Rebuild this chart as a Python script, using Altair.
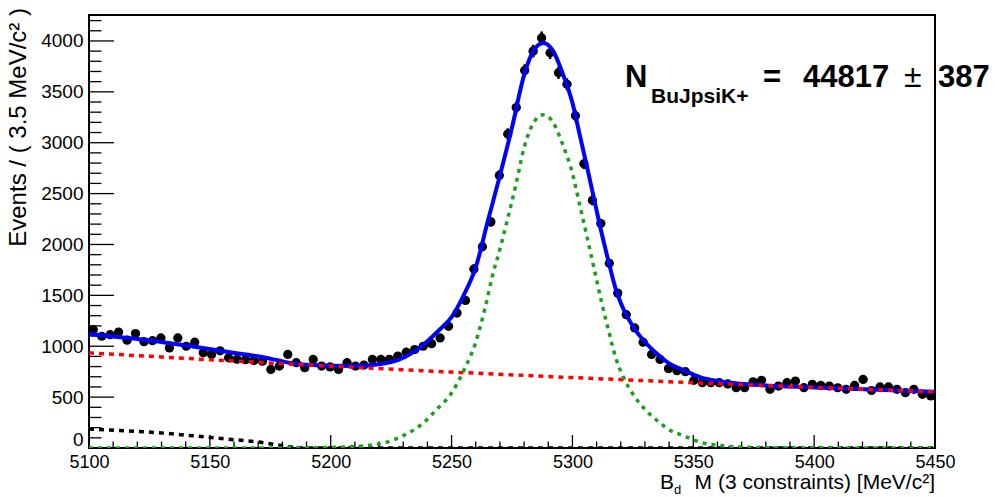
import altair as alt
import pandas as pd

# ---------------- data ----------------
BIN_START = 5100.0
BIN_WIDTH = 3.5
counts = [
    1163, 1098, 1114, 1140, 1060, 1125, 1045, 1055, 1082, 984,
    1082, 1000, 1040, 935, 919, 955, 886, 872, 868, 860,
    853, 772, 805, 919, 838, 789, 870, 805, 797, 772,
    838, 805, 815, 870, 870, 872, 903, 942, 968, 1000,
    1025, 1082, 1196, 1326, 1450, 1760, 1978, 2222, 2678, 3086,
    3346, 3710, 3900, 4030, 3884, 3688, 3574, 3265, 2793, 2434,
    2206, 1815, 1522, 1310, 1180, 1040, 919, 870, 780, 760,
    750, 665, 642, 642, 642, 630, 593, 593, 650, 665,
    577, 609, 642, 658, 593, 626, 615, 609, 592, 577,
    615, 674, 565, 600, 600, 577, 544, 577, 528, 511,
]

# total fit (blue)
blue_x = [5100, 5115, 5130, 5143, 5157, 5171, 5178, 5184, 5190, 5200, 5210, 5220,
          5228, 5235, 5240, 5245, 5250, 5255, 5260, 5265, 5270, 5275, 5280, 5284,
          5288, 5292, 5296, 5300, 5303, 5306, 5309, 5312, 5315, 5318, 5321, 5325,
          5330, 5335, 5340, 5346, 5353, 5362, 5375, 5400, 5450]
blue_y = [1121, 1084, 1042, 997, 946, 896, 862, 832, 818, 809, 807, 823,
          866, 955, 1050, 1162, 1286, 1501, 1775, 2230, 2678, 3149, 3664, 3910,
          3981, 3902, 3678, 3392, 3079, 2766, 2443, 2120, 1827, 1554, 1371, 1197,
          1042, 926, 831, 765, 694, 652, 622, 595, 552]

# combinatorial background (red dashed)
red_x = [5100, 5150, 5200, 5250, 5300, 5350, 5400, 5450]
red_y = [935, 867, 804, 746, 692, 641, 595, 552]

# signal (green dashed)
green_x = [5100, 5150, 5190, 5200, 5214, 5223, 5230, 5238, 5244, 5250, 5255, 5260,
           5264, 5267, 5270, 5273.5, 5276.5, 5280, 5284, 5288, 5292, 5296, 5300,
           5303, 5306, 5309, 5312, 5315, 5318, 5321, 5325, 5330, 5335, 5340, 5346,
           5353, 5362, 5375, 5400, 5450]
green_y = [0, 0, 2, 5, 22, 56, 121, 240, 383, 540, 760, 1040,
           1390, 1700, 1954, 2282, 2576, 2950, 3200, 3275, 3200, 2980, 2700,
           2390, 2080, 1760, 1440, 1150, 880, 700, 530, 380, 270, 180, 120,
           56, 22, 5, 0, 0]

# partially reconstructed background (black dashed)
black_x = [5100, 5115, 5130, 5143, 5157, 5171, 5178, 5184, 5190, 5450]
black_y = [186, 170, 148, 120, 88, 56, 30, 8, 0, 0]

# axis ticks / labels
x_major = [5100, 5150, 5200, 5250, 5300, 5350, 5400, 5450]
x_minor = [v for v in range(5100, 5451, 10) if v not in x_major]
y_major = [0, 500, 1000, 1500, 2000, 2500, 3000, 3500, 4000]
y_minor = [v for v in range(0, 4251, 100) if v not in y_major]

Y_TITLE = "Events / ( 3.5 MeV/c² )"
X_TITLE_MAIN = "B"
X_TITLE_SUB = "d"
X_TITLE_REST = "M (3 constraints) [MeV/c²]"
ANN_N = "N"
ANN_SUB = "BuJpsiK+"
ANN_EQ = "="
ANN_VAL = "44817"
ANN_PM = "±"
ANN_ERR = "387"

# ---------------- build ----------------
W, H = 846, 433
FONT = "Liberation Sans"
xs = alt.Scale(domain=[5100, 5450], nice=False, zero=False)
ys = alt.Scale(domain=[0, 4255], nice=False)

AX = alt.Axis(values=x_major, format="d", ticks=False, domain=False, grid=False,
              labelFont=FONT, labelFontSize=18, labelColor="black",
              labelPadding=5, labelFlush=False, title=None)
AY = alt.Axis(values=y_major, format="d", ticks=False, domain=False, grid=False,
              labelFont=FONT, labelFontSize=19, labelColor="black",
              labelPadding=6, labelFlush=False, title=None,
              labelOffset={"condition": {"test": "datum.value == 0", "value": -9}, "value": 0})

X = lambda f: alt.X(f, scale=xs, axis=AX, title=None)
Y = lambda f: alt.Y(f, scale=ys, axis=AY, title=None)

df = pd.DataFrame({"y": counts})
df["x"] = [BIN_START + BIN_WIDTH * (i + 0.5) for i in range(len(counts))]
df["lo"] = df["y"] - df["y"] ** 0.5
df["hi"] = df["y"] + df["y"] ** 0.5
df["xl"] = df["x"] - BIN_WIDTH / 2
df["xh"] = df["x"] + BIN_WIDTH / 2

pts = alt.Chart(df).mark_point(filled=True, shape="circle", size=85, color="black", opacity=1).encode(
    x=X("x:Q"), y=Y("y:Q"))
ebar = alt.Chart(df).mark_rule(color="black", strokeWidth=2.5).encode(x=X("x:Q"), y=Y("lo:Q"), y2="hi:Q")
xbar = alt.Chart(df).mark_rule(color="black", strokeWidth=2.5).encode(x=X("xl:Q"), x2="xh:Q", y=Y("y:Q"))

def curve(xv, yv, color, width, dash=None, interp="monotone"):
    d = pd.DataFrame({"x": xv, "y": yv})
    kw = dict(color=color, strokeWidth=width, interpolate=interp, clip=True)
    if dash:
        kw["strokeDash"] = dash
    return alt.Chart(d).mark_line(**kw).encode(x=X("x:Q"), y=Y("y:Q"))

blue = curve(blue_x, blue_y, "#0000ff", 4)
red = curve(red_x, red_y, "#ff0000", 3.5, [5, 5], "linear")
green = curve(green_x, green_y, "#1e9e1e", 3.5, [4, 5])
black = curve(black_x, black_y, "black", 3.5, [5, 5])

def ticks_x(vals, length):
    return alt.Chart(pd.DataFrame({"t": vals})).mark_rule(color="black", strokeWidth=1.3).encode(
        x=X("t:Q"), y=alt.value(H), y2=alt.value(H - length))

def ticks_y(vals, length):
    return alt.Chart(pd.DataFrame({"t": vals})).mark_rule(color="black", strokeWidth=1.3).encode(
        y=Y("t:Q"), x=alt.value(0), x2=alt.value(length))

def label(txt, x, y, size, weight="normal", align="left", angle=0, baseline="alphabetic"):
    kw = dict(font=FONT, fontSize=size, fontWeight=weight, align=align, baseline=baseline, color="black")
    if angle:
        kw["angle"] = angle
    return alt.Chart(pd.DataFrame({"t": [txt]})).mark_text(**kw).encode(
        text="t:N", x=alt.value(x), y=alt.value(y))

texts = [
    label(Y_TITLE, -70, -7, 24, align="right", angle=270, baseline="middle"),
    label(X_TITLE_MAIN, 571, 474, 21),
    label(X_TITLE_SUB, 585, 479, 13),
    label(X_TITLE_REST, 846, 474, 21, align="right"),
    label(ANN_N, 536, 72, 31, "bold"),
    label(ANN_SUB, 562, 88, 21, "bold"),
    label(ANN_EQ, 674, 72, 31, "bold"),
    label(ANN_VAL, 714, 72, 31, "bold"),
    label(ANN_PM, 815, 72, 32),
    label(ANN_ERR, 849, 72, 31, "bold"),
]

chart = alt.layer(
    pts, ebar, xbar,
    ticks_x(x_major, 13), ticks_x(x_minor, 6.5),
    ticks_y(y_major, 25), ticks_y(y_minor, 12.5),
    blue, red, black, green,
    *texts,
).properties(
    width=W, height=H,
    padding={"left": 89, "top": 15, "right": 61, "bottom": 49},
    autosize=alt.AutoSizeParams(type="none"),
    background="white",
).configure_view(stroke="black", strokeWidth=2)

chart.save("out.html", embed_options={"renderer": "svg", "actions": False})
